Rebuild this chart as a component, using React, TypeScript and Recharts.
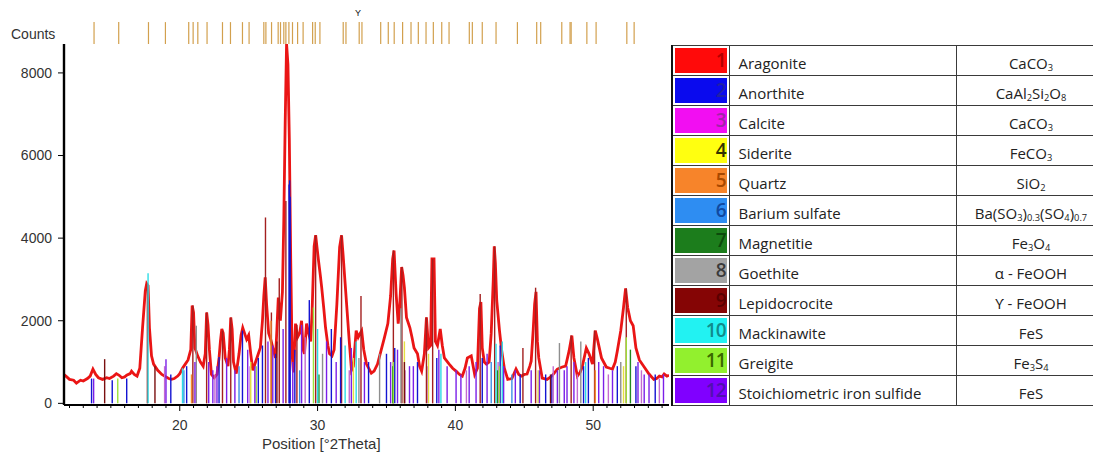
import React from "react";
import { ComposedChart, Line, XAxis, YAxis, ReferenceLine } from "recharts";

// measured pattern (°2Theta, counts)
const tracePos = [
  11.6, 11.8, 12.0, 12.3, 12.5, 12.8, 13.0, 13.3, 13.5, 13.7, 13.9, 14.1, 14.4, 14.7, 14.9, 15.2, 15.4, 15.6, 15.8, 16.0,
  16.15, 16.4, 16.5, 16.7, 16.9, 17.1, 17.3, 17.5, 17.6, 17.7, 17.8, 17.95, 18.1, 18.4, 18.7, 18.9, 19.2, 19.4, 19.6, 19.85,
  20.0, 20.2, 20.4, 20.6, 20.8, 20.9, 21.0, 21.1, 21.3, 21.5, 21.7, 21.85, 21.95, 22.05, 22.15, 22.3, 22.5, 22.7, 22.85, 22.95,
  23.05, 23.15, 23.3, 23.5, 23.6, 23.7, 23.8, 23.9, 24.1, 24.3, 24.45, 24.57, 24.7, 24.85, 25.0, 25.15, 25.3, 25.5, 25.7, 25.85,
  26.0, 26.1, 26.2, 26.3, 26.45, 26.6, 26.75, 26.95, 27.05, 27.15, 27.3, 27.45, 27.55, 27.65, 27.75, 27.85, 27.95, 28.05, 28.15, 28.25,
  28.4, 28.55, 28.7, 28.84, 28.95, 29.05, 29.2, 29.35, 29.5, 29.6, 29.75, 29.86, 29.95, 30.07, 30.2, 30.3, 30.45, 30.58, 30.75, 30.87,
  31.05, 31.2, 31.4, 31.6, 31.74, 31.85, 32.0, 32.15, 32.3, 32.46, 32.6, 32.8, 32.95, 33.1, 33.2, 33.35, 33.55, 33.9, 34.1, 34.35,
  34.6, 34.85, 35.1, 35.3, 35.45, 35.55, 35.7, 35.85, 35.95, 36.1, 36.2, 36.3, 36.45, 36.7, 36.85, 37.0, 37.25, 37.4, 37.55, 37.75,
  37.9, 38.05, 38.2, 38.3, 38.45, 38.55, 38.7, 38.9, 39.05, 39.2, 39.55, 39.8, 40.05, 40.3, 40.5, 40.7, 40.87, 41.15, 41.4, 41.6,
  41.75, 41.85, 41.95, 42.1, 42.25, 42.45, 42.6, 42.75, 42.82, 42.9, 43.0, 43.2, 43.35, 43.55, 43.8, 44.1, 44.4, 44.6, 44.8, 45.0,
  45.2, 45.4, 45.5, 45.65, 45.75, 45.85, 45.95, 46.05, 46.3, 46.65, 47.0, 47.4, 47.75, 48.0, 48.25, 48.45, 48.6, 48.85, 49.05, 49.2,
  49.5, 49.7, 49.95, 50.15, 50.3, 50.6, 50.95, 51.2, 51.4, 51.6, 51.75, 52.0, 52.2, 52.35, 52.5, 52.7, 52.9, 53.1, 53.35, 53.7,
  54.05, 54.4, 54.6, 54.8, 55.0, 55.15, 55.35, 55.5,
];
const traceCounts = [
  700, 640, 580, 560, 490, 560, 540, 600, 660, 830, 700, 620, 580, 620, 600, 660, 720, 680, 620, 640,
  680, 720, 780, 700, 660, 850, 1830, 2730, 2900, 2850, 1830, 1150, 950, 800, 700, 660, 600, 580, 600, 660,
  720, 850, 950, 1050, 1300, 2370, 2200, 1340, 1150, 1000, 900, 1200, 2200, 1900, 1300, 700, 620, 700, 1100, 1500,
  1800, 1700, 1100, 900, 1300, 2080, 1800, 1000, 720, 1200, 1650, 1830, 1700, 1550, 1650, 1200, 800, 1000, 1200, 1350,
  2000, 2600, 3050, 2400, 1700, 1550, 1350, 1100, 1800, 2560, 2000, 2700, 4440, 6800, 8700, 8200, 6400, 3500, 1200, 750,
  1930, 1600, 1700, 2000, 1300, 1200, 1930, 1700, 1500, 2200, 3800, 4070, 3800, 3450, 3100, 2800, 2300, 1830, 1400, 1200,
  1150, 1300, 2400, 3780, 4070, 3600, 2900, 2200, 1500, 800, 900, 1760, 1600, 1700, 1760, 1300, 950, 730, 780, 950,
  1270, 1590, 1930, 2600, 3500, 3700, 2650, 1930, 2300, 3300, 3100, 2800, 2080, 1830, 1600, 1340, 1200, 900, 780, 1200,
  2080, 1340, 1400, 3500, 3500, 1500, 1400, 1800, 1400, 1100, 950, 850, 780, 700, 660, 850, 1100, 1150, 700, 850,
  2300, 2450, 1340, 1000, 950, 1000, 1700, 3000, 3800, 3400, 2490, 1760, 1300, 850, 580, 600, 830, 700, 660, 700,
  710, 900, 1020, 1800, 2400, 2700, 1500, 1100, 610, 580, 660, 830, 880, 900, 1270, 1640, 1100, 660, 750, 880,
  1340, 1200, 950, 1760, 1560, 1100, 880, 850, 830, 1000, 1270, 1760, 2320, 2780, 2320, 2000, 1880, 1340, 1050, 880,
  710, 580, 600, 660, 640, 710, 660, 680,
];

// reference patterns (stick positions and heights)
const aragonitePos = [17.65, 20.95, 21.95, 23.1, 23.7, 26.22, 26.65, 27.22, 27.7, 28.5, 29.86, 31.74, 33.15, 35.5, 36.12, 37.9, 38.35, 41.8, 42.85, 44.9, 45.82, 48.4, 50.1, 52.4];
const aragoniteCounts = [2900, 2370, 2200, 1760, 2080, 4500, 2200, 3030, 4900, 1900, 4070, 4070, 2600, 3700, 3300, 2080, 3500, 2650, 3800, 1340, 2800, 1640, 1760, 2780];
const anorthitePos = [13.6, 15.1, 16.15, 19.35, 20.5, 22.85, 24.55, 25.7, 26.0, 26.95, 27.93, 27.97, 28.01, 28.35, 29.4, 31.0, 31.67, 33.7, 35.0, 35.6, 37.25, 38.65, 41.95, 43.25, 44.7, 46.55, 47.0, 49.3, 49.65, 51.75, 53.1, 54.5];
const anorthiteCounts = [600, 560, 600, 700, 900, 1120, 1760, 1100, 1400, 1200, 5300, 5400, 5000, 1300, 2500, 1800, 1600, 1000, 1200, 1340, 1000, 1100, 1100, 1400, 700, 700, 700, 900, 1100, 900, 900, 700];
const calcitePos = [18.9, 22.55, 25.1, 29.1, 32.3, 36.35, 38.0, 40.8, 43.1, 47.1, 48.85, 51.1, 53.5, 54.8];
const calciteCounts = [900, 700, 900, 1600, 800, 800, 900, 800, 1000, 900, 700, 700, 800, 600];
const sideritePos = [25.15, 32.6, 36.3, 38.05, 46.0, 52.2];
const sideriteCounts = [1000, 1100, 1500, 1200, 800, 900];
const quartzPos = [20.85, 26.62, 50.15];
const quartzCounts = [700, 2000, 800];
const bariumPos = [20.3, 24.3, 28.7, 42.6, 44.1];
const bariumCounts = [800, 900, 800, 1000, 700];
const magnetitePos = [30.1, 35.45, 43.05, 52.7];
const magnetiteCounts = [700, 900, 800, 1300];
const goethitePos = [21.2, 30.36, 33.0, 34.5, 36.05, 47.55, 49.1, 52.0];
const goethiteCounts = [1880, 1200, 1100, 1200, 2300, 1460, 1500, 1000];
const lepidoPos = [14.55, 18.2, 27.05, 36.3, 46.9];
const lepidoCounts = [1070, 900, 1500, 1000, 700];
const mackinawitePos = [17.7, 20.2, 30.0, 32.0, 32.8, 38.95, 42.95, 43.4, 49.45];
const mackinawiteCounts = [3150, 850, 1800, 1400, 1500, 1200, 1440, 1500, 1000];
const greigitePos = [15.5, 25.55, 29.7, 35.5, 43.2, 52.4];
const greigiteCounts = [600, 900, 2320, 1000, 900, 1600];
const ironSulfidePos = [13.75, 19.0, 21.1, 22.1, 22.4, 22.7, 23.4, 24.0, 24.93, 25.45, 26.4, 26.75, 27.5, 28.2, 28.84, 30.65, 31.35, 32.45, 33.4, 35.3, 35.8, 36.67, 36.95, 38.8, 39.4, 40.05, 40.4, 41.0, 41.5, 42.3, 43.5, 44.35, 45.5, 46.1, 47.4, 47.9, 48.1, 48.6, 50.4, 50.75, 51.4, 53.25, 53.7, 54.05, 55.1];
const ironSulfideCounts = [600, 1070, 1000, 1000, 800, 900, 1100, 800, 1300, 900, 1500, 1400, 1800, 1000, 1900, 1500, 1000, 1340, 1000, 1000, 1300, 900, 900, 1300, 900, 800, 700, 900, 1000, 1200, 900, 800, 800, 800, 800, 800, 900, 1000, 1000, 900, 800, 1000, 700, 700, 700];

// peak list markers above the plot
const markerPos = [
  13.78, 15.57, 17.73, 18.96, 20.65, 20.97, 21.31, 21.98, 23.1, 23.68, 24.55, 25.03, 26.1, 26.25, 26.66, 27.14, 27.31, 27.55,
  27.7, 27.92, 28.18, 28.55, 28.95, 29.64, 29.83, 30.17, 31.86, 32.06, 33.02, 33.22, 34.58, 35.13, 35.56, 36.17, 36.78, 37.31,
  37.87, 38.4, 39.01, 39.54, 41.01, 41.23, 41.95, 42.95, 44.5, 45.9, 46.19, 47.72, 48.32, 48.4, 49.54, 50.21, 52.44, 52.97,
];

const phaseNames = ["Aragonite", "Anorthite", "Calcite", "Siderite", "Quartz", "Barium sulfate", "Magnetitie", "Goethite", "Lepidocrocite", "Mackinawite", "Greigite", "Stoichiometric iron sulfide"];
const phaseFormulas = ["CaCO_{3}", "CaAl_{2}Si_{2}O_{8}", "CaCO_{3}", "FeCO_{3}", "SiO_{2}", "Ba(SO_{3})_{0.3}(SO_{4})_{0.7}", "Fe_{3}O_{4}", "α - FeOOH", "ϒ - FeOOH", "FeS", "Fe_{3}S_{4}", "FeS"];
const swatchColors = ["#FF0A0A", "#0A0AEE", "#F20EF2", "#FFFF10", "#F7842A", "#2E8DF2", "#1C7D1C", "#A3A3A3", "#850505", "#22F2F2", "#92F02E", "#8000FF"];
const numberColors = ["#B40000", "#2020A8", "#A024A8", "#333300", "#A84800", "#1048A0", "#0C4A0C", "#3A3A3A", "#5A0000", "#108C8C", "#3A6A00", "#5010B0"];
const stickColors = ["#A31F1F", "#1414D2", "#C46BD0", "#E4E040", "#F28C2E", "#3C8FE6", "#228B22", "#8E8E8E", "#7A0F0F", "#2EDCE6", "#9CE23A", "#7B1FE8"];

const xMinorTicks = [12, 13, 14, 15, 16, 17, 18, 19, 20, 21, 22, 23, 24, 25, 26, 27, 28, 29, 30, 31, 32, 33, 34, 35, 36, 37, 38, 39, 40, 41, 42, 43, 44, 45, 46, 47, 48, 49, 50, 51, 52, 53, 54, 55];
const yTicks = [0, 2000, 4000, 6000, 8000];

const X_DOMAIN: [number, number] = [11.6, 55.5];
const Y_DOMAIN: [number, number] = [-40, 8700];
const MARKER_TOP = 9230;

const traceData = tracePos.map((x, i) => ({ x, y: traceCounts[i] }));

const stickSets = [
  [aragonitePos, aragoniteCounts],
  [anorthitePos, anorthiteCounts],
  [calcitePos, calciteCounts],
  [sideritePos, sideriteCounts],
  [quartzPos, quartzCounts],
  [bariumPos, bariumCounts],
  [magnetitePos, magnetiteCounts],
  [goethitePos, goethiteCounts],
  [lepidoPos, lepidoCounts],
  [mackinawitePos, mackinawiteCounts],
  [greigitePos, greigiteCounts],
  [ironSulfidePos, ironSulfideCounts],
];

const axisFont = '"Liberation Sans", Arial, sans-serif';

const XTick = (props: any) => {
  const { x, y, payload } = props;
  const major = payload.value % 10 === 0;
  return (
    <g>
      <line x1={x} x2={x} y1={y} y2={y + (major ? 6 : 3)} stroke="#000" strokeWidth={1} />
      {major && (
        <text x={x} y={y + 25} textAnchor="middle" fontSize={14} fill="#333" fontFamily={axisFont}>
          {payload.value}
        </text>
      )}
    </g>
  );
};

function renderFormula(f: string) {
  const parts = f.split(/_\{([^}]*)\}/);
  return parts.map((p, i) =>
    i % 2 === 1 ? (
      <sub key={i} style={{ fontSize: "0.62em", verticalAlign: "-0.25em", lineHeight: 0 }}>{p}</sub>
    ) : (
      <span key={i}>{p}</span>
    )
  );
}

const cellBorder = "1px solid #3a3a3a";

export default function App() {
  return (
    <div style={{ position: "absolute", left: 0, top: 0, width: 1093, height: 452, overflow: "hidden", background: "#fff" }}>
      <div style={{ position: "absolute", left: 11, top: 26, fontFamily: axisFont, fontSize: 14, color: "#333" }}>Counts</div>
      <div style={{ position: "absolute", left: 355, top: 8, fontFamily: axisFont, fontSize: 9, color: "#111" }}>Y</div>
      <div style={{ position: "absolute", left: 262, top: 435, fontFamily: axisFont, fontSize: 15, color: "#333" }}>Position [°2Theta]</div>

      <div style={{ position: "absolute", left: 0, top: 0 }}>
        <ComposedChart width={680} height={452} margin={{ top: 44, right: 11, bottom: 17, left: 8 }}>
          <XAxis
            type="number"
            dataKey="x"
            domain={X_DOMAIN}
            allowDataOverflow
            ticks={xMinorTicks}
            interval={0}
            tick={<XTick />}
            tickLine={false}
            tickSize={0}
            tickMargin={0}
            height={30}
            axisLine={{ stroke: "#000", strokeWidth: 2 }}
          />
          <XAxis
            xAxisId="top"
            orientation="top"
            type="number"
            domain={X_DOMAIN}
            tick={false}
            tickLine={false}
            height={0}
            axisLine={{ stroke: "#000", strokeWidth: 2 }}
          />
          <YAxis
            type="number"
            domain={Y_DOMAIN}
            allowDataOverflow
            ticks={yTicks}
            interval={0}
            width={56}
            tickSize={6}
            tickMargin={6}
            tickLine={{ stroke: "#000" }}
            axisLine={{ stroke: "#000", strokeWidth: 2.4 }}
            tick={{ fontSize: 14, fill: "#333", fontFamily: axisFont }}
          />
          <YAxis
            yAxisId="right"
            orientation="right"
            type="number"
            domain={[0, 1]}
            width={0}
            tick={false}
            tickLine={false}
            axisLine={{ stroke: "#000", strokeWidth: 2 }}
          />
          <Line
            data={traceData}
            dataKey="y"
            type="linear"
            stroke="#EA1515"
            strokeWidth={2.8}
            dot={false}
            activeDot={false}
            isAnimationActive={false}
          />
          {stickSets.map(([pos, cnt], s) =>
            pos.map((p, i) => (
              <ReferenceLine
                key={`s${s}-${i}`}
                segment={[{ x: p, y: 0 }, { x: p, y: cnt[i] }]}
                stroke={stickColors[s]}
                strokeWidth={1.4}
                ifOverflow="visible"
              />
            ))
          )}
          {markerPos.map((p, i) => (
            <ReferenceLine
              key={`m${i}`}
              segment={[{ x: p, y: Y_DOMAIN[1] }, { x: p, y: MARKER_TOP }]}
              stroke="#D2A04E"
              strokeWidth={1.2}
              ifOverflow="visible"
            />
          ))}
        </ComposedChart>
      </div>

      <table
        style={{
          position: "absolute",
          left: 671,
          top: 45,
          width: 434,
          borderCollapse: "collapse",
          tableLayout: "fixed",
          fontFamily: '"Open Sans", sans-serif',
          fontSize: 15,
          color: "#222",
        }}
      >
        <colgroup>
          <col style={{ width: 57 }} />
          <col style={{ width: 227 }} />
          <col style={{ width: 150 }} />
        </colgroup>
        <tbody>
          {phaseNames.map((name, i) => (
            <tr key={name + i} style={{ height: 29.8 }}>
              <td style={{ padding: "2px 2px", border: cellBorder, borderLeft: "2px solid #111" }}>
                <div
                  style={{
                    background: swatchColors[i],
                    height: 25,
                    lineHeight: "25px",
                    textAlign: "right",
                    paddingRight: 1,
                    fontSize: 19,
                    fontWeight: 600,
                    letterSpacing: -1,
                    color: numberColors[i],
                  }}
                >
                  {i + 1}
                </div>
              </td>
              <td style={{ padding: "5px 0 0 9px", border: cellBorder, lineHeight: 1, whiteSpace: "nowrap" }}>{name}</td>
              <td style={{ padding: "5px 0 0 0", border: cellBorder, textAlign: "center", lineHeight: 1, whiteSpace: "nowrap" }}>
                {renderFormula(phaseFormulas[i])}
              </td>
            </tr>
          ))}
        </tbody>
      </table>
    </div>
  );
}
